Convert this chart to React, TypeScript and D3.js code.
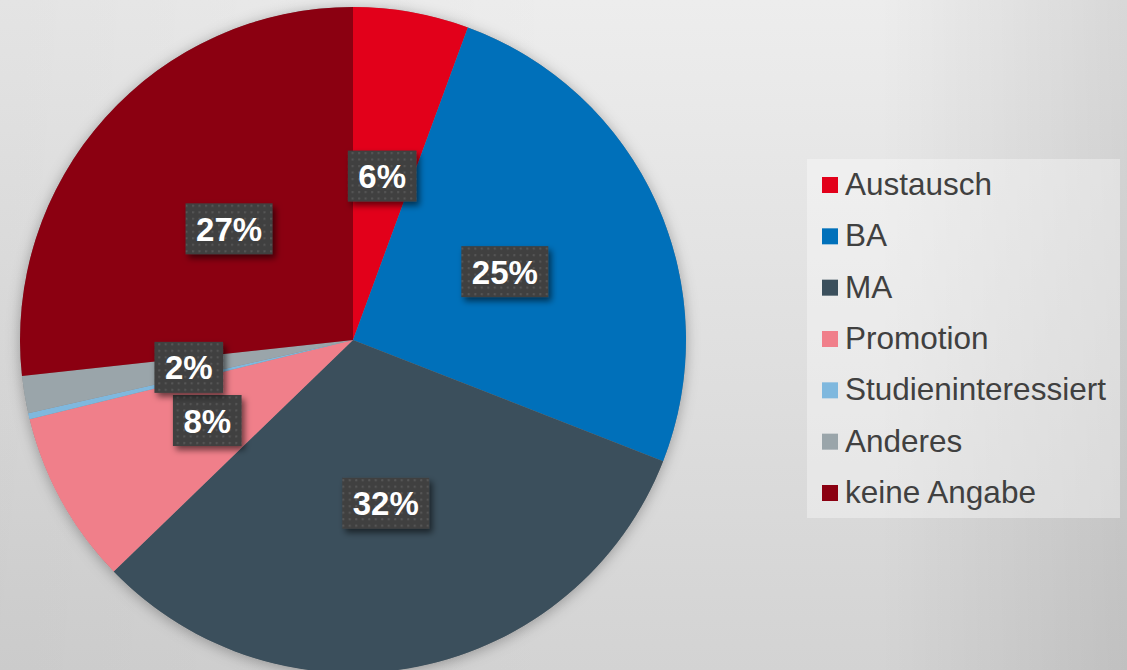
import React from "react";
import * as d3 from "d3";

const categories = ["Austausch", "BA", "MA", "Promotion", "Studieninteressiert", "Anderes", "keine Angabe"];
const shares = [5.6, 25.3, 31.8, 8.4, 0.3, 1.8, 26.7];
const colors = ["#e2001a", "#0070ba", "#3b4f5c", "#f07f8a", "#7fb8de", "#9aa5aa", "#8b0011"];

const W = 1127;
const H = 670;
const FONT = "Arial, 'Liberation Sans', sans-serif";

function measure(text: string, size: number, weight = "bold") {
  if (typeof document === "undefined") return text.length * size * 0.6;
  const c = document.createElement("canvas");
  const ctx = c.getContext("2d")!;
  ctx.font = `${weight} ${size}px ${FONT}`;
  return ctx.measureText(text).width;
}

export default function App() {
  const cx = 353;
  const cy = 340;
  const R = 333;
  const total = d3.sum(shares);
  const data = categories.map((c, i) => ({ name: c, value: shares[i], color: colors[i] }));
  const pie = d3.pie<any>().value((d) => d.value).sort(null).startAngle(0).endAngle(2 * Math.PI);
  const arcs = pie(data);
  const arcGen = d3.arc<any>().innerRadius(0).outerRadius(R);

  const legendX = 807;
  const legendY = 159;
  const legendW = 313;
  const legendH = 359;
  const rowY = d3.scaleLinear().domain([0, 6]).range([184, 492]);

  const labelSize = 33;

  return (
    <svg width={W} height={H} style={{ position: "absolute", left: 0, top: 0, display: "block" }}>
      <defs>
        <linearGradient id="bgV" x1="0" y1="0" x2="0" y2="1">
          <stop offset="0" stopColor="#ededed" />
          <stop offset="1" stopColor="#d3d3d3" />
        </linearGradient>
        <linearGradient id="bgH" x1="0" y1="0" x2="1" y2="0">
          <stop offset="0" stopColor="#000" stopOpacity="0.04" />
          <stop offset="0.5" stopColor="#000" stopOpacity="0" />
          <stop offset="0.78" stopColor="#000" stopOpacity="0" />
          <stop offset="1" stopColor="#000" stopOpacity="0.09" />
        </linearGradient>
        <filter id="pieShadow" x="-20%" y="-20%" width="140%" height="140%">
          <feDropShadow dx="0" dy="2" stdDeviation="7" floodColor="#000" floodOpacity="0.3" />
        </filter>
        <filter id="boxShadow" x="-30%" y="-30%" width="160%" height="160%">
          <feDropShadow dx="3" dy="4" stdDeviation="3" floodColor="#000" floodOpacity="0.55" />
        </filter>
        <pattern id="dots" width="6.5" height="6.5" patternUnits="userSpaceOnUse">
          <rect width="6.5" height="6.5" fill="#404040" />
          <rect x="2" y="2" width="2" height="2" fill="#575757" />
        </pattern>
      </defs>
      <rect width={W} height={H} fill="url(#bgV)" />
      <rect width={W} height={H} fill="url(#bgH)" />

      <g transform={`translate(${cx},${cy})`}>
        <circle r={R} fill="#888" filter="url(#pieShadow)" />
        {arcs.map((a, i) => (
          <path key={i} d={arcGen(a) || ""} fill={a.data.color} />
        ))}
        {arcs.map((a, i) => {
          const pct = Math.round((a.data.value / total) * 100);
          if (pct < 1) return null;
          const [lx, ly] = arcGen.centroid(a);
          const txt = `${pct}%`;
          const tw = measure(txt, labelSize);
          const bw = tw + 21;
          const bh = 51;
          return (
            <g key={"l" + i} transform={`translate(${lx},${ly})`}>
              <rect x={-bw / 2} y={-bh / 2} width={bw} height={bh} fill="url(#dots)" filter="url(#boxShadow)" />
              <text
                x={0}
                y={12}
                textAnchor="middle"
                fill="#ffffff"
                fontFamily={FONT}
                fontWeight="bold"
                fontSize={labelSize}
              >
                {txt}
              </text>
            </g>
          );
        })}
      </g>

      <rect x={legendX} y={legendY} width={legendW} height={legendH} fill="#ffffff" fillOpacity={0.35} />
      {data.map((d, i) => (
        <g key={"lg" + i}>
          <rect x={822} y={rowY(i) - 7} width={16} height={16} fill={d.color} />
          <text x={845} y={rowY(i) + 11} fill="#404040" fontFamily={FONT} fontSize={31.5}>
            {d.name}
          </text>
        </g>
      ))}
    </svg>
  );
}
